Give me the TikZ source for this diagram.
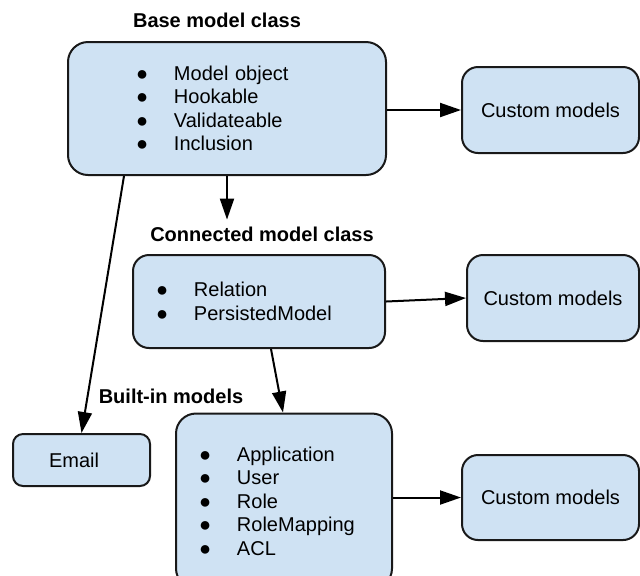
\documentclass[tikz,border=0pt]{standalone}
\usepackage{fontspec}
\setmainfont{Liberation Sans}
\usepackage{tikz}
\usetikzlibrary{arrows.meta,positioning}
\usepackage{xcolor}
\definecolor{boxblue}{HTML}{CFE2F3}
\newcommand{\bul}[1]{\makebox[19pt][l]{●}#1}

\begin{document}
\begin{tikzpicture}[
  x = 0.5pt, y = -0.5pt,
  every node/.style = {font=\fontsize{10}{11.75}\selectfont},
  box/.style = {rectangle, rounded corners=8pt, draw=black!90, line width=1pt,
    fill=boxblue, align=center},
  listbox/.style = {box, align=left},
  ttl/.style = {font=\fontsize{10}{12}\selectfont\bfseries},
  arr/.style = {-{Triangle[length=10.5pt,width=7pt]}, line width=1pt}
]
\useasboundingbox (0,0) rectangle (640,575);

\node[ttl] (baseT)  at (217,20)  {Base model class};
\node[ttl] (conT)   at (262,234) {Connected model class};
\node[ttl] (builtT) at (171,396) {Built-in models};

\node[listbox, rounded corners=10pt, minimum width=159pt, minimum height=66.5pt,
      text width=91pt, inner xsep=34pt] (base) at (227,108.5)
      {\bul{Model object}\\\bul{Hookable}\\\bul{Validateable}\\\bul{Inclusion}};
\node[listbox, minimum width=126pt, minimum height=46.5pt,
      text width=103pt, inner xsep=11.5pt] (con) at (259,301.5)
      {\bul{Relation}\\\bul{PersistedModel}};
\node[listbox, rounded corners=10pt, minimum width=108pt, minimum height=87.5pt,
      text width=85pt, inner xsep=11.5pt] (built) at (284,501)
      {\bul{Application}\\\bul{User}\\\bul{Role}\\\bul{RoleMapping}\\\bul{ACL}};
\node[listbox, rounded corners=5pt, minimum width=68.5pt, minimum height=26pt,
      text width=32.5pt, inner xsep=18pt] (email) at (81.5,460) {Email};

\node[box, minimum width=88.5pt, minimum height=43pt]   (c1) at (550.5,110)   {Custom models};
\node[box, minimum width=86pt,   minimum height=43pt]   (c2) at (553,298)     {Custom models};
\node[box, minimum width=88.5pt, minimum height=42.5pt] (c3) at (550.5,497.5) {Custom models};

\draw[arr] (base.east |- c1.west) -- (c1.west);
\draw[arr] (base.south) -- (base.south |- conT.north);
\draw[arr] ([xshift=28.5pt]base.south west) -- (email.north);
\draw[arr] (con.east) -- (c2.west);
\draw[arr] ([xshift=6pt]con.south) -- ([xshift=-0.5pt]built.north);
\draw[arr] (built.east |- c3.west) -- (c3.west);
\end{tikzpicture}
\end{document}
